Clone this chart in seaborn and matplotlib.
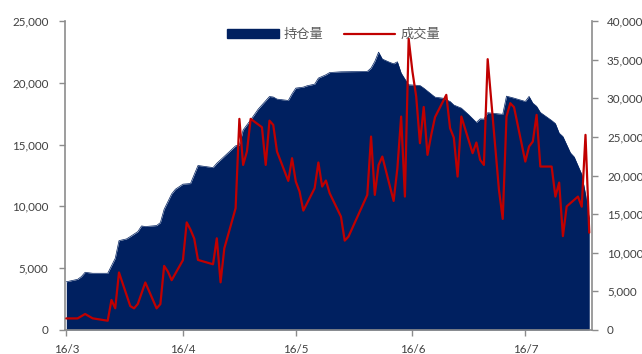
import matplotlib
matplotlib.use("Agg")
import matplotlib.pyplot as plt
import matplotlib.dates as mdates
from matplotlib.patches import Patch
from matplotlib.lines import Line2D
from matplotlib.ticker import FuncFormatter, MultipleLocator
import seaborn as sns
import pandas as pd

# ---- data ----
oi_dates = ["2016-03-01", "2016-03-04", "2016-03-05", "2016-03-06", "2016-03-08", "2016-03-12",
            "2016-03-14", "2016-03-15", "2016-03-17", "2016-03-18", "2016-03-20", "2016-03-21",
            "2016-03-22", "2016-03-25", "2016-03-26", "2016-03-27", "2016-03-29", "2016-03-30",
            "2016-04-01", "2016-04-03", "2016-04-05", "2016-04-09", "2016-04-10", "2016-04-11",
            "2016-04-15", "2016-04-16", "2016-04-17", "2016-04-19", "2016-04-21", "2016-04-24",
            "2016-04-25", "2016-04-26", "2016-04-29", "2016-04-30", "2016-05-01", "2016-05-03",
            "2016-05-04", "2016-05-06", "2016-05-07", "2016-05-09", "2016-05-10", "2016-05-13",
            "2016-05-20", "2016-05-21", "2016-05-22", "2016-05-23", "2016-05-24", "2016-05-26",
            "2016-05-27", "2016-05-28", "2016-05-29", "2016-05-30", "2016-05-31", "2016-06-03",
            "2016-06-04", "2016-06-07", "2016-06-09", "2016-06-11", "2016-06-12", "2016-06-14",
            "2016-06-16", "2016-06-18", "2016-06-19", "2016-06-20", "2016-06-21", "2016-06-25",
            "2016-06-26", "2016-06-28", "2016-07-01", "2016-07-02", "2016-07-03", "2016-07-04",
            "2016-07-05", "2016-07-08", "2016-07-09", "2016-07-10", "2016-07-11", "2016-07-13",
            "2016-07-14", "2016-07-15", "2016-07-16", "2016-07-17", "2016-07-18"]
oi_values = [3900, 4100, 4320, 4670, 4590, 4590,
             5800, 7230, 7370, 7560, 7960, 8420,
             8370, 8450, 8690, 9770, 11010, 11390,
             11800, 11850, 13310, 13140, 13490, 13770,
             14900, 14980, 16190, 17000, 17870, 18890,
             18850, 18680, 18570, 19110, 19570, 19650,
             19760, 19890, 20380, 20650, 20830, 20890,
             20920, 21190, 21730, 22480, 21920, 21650,
             21540, 21700, 20790, 20300, 19840, 19780,
             19570, 18840, 18760, 18490, 18200, 17950,
             17400, 16790, 17080, 17060, 17580, 17450,
             18920, 18760, 18490, 18900, 18350, 18100,
             17600, 16950, 16700, 15930, 15650, 14330,
             14000, 13300, 12600, 11000, 9000]

vol_dates = ["2016-03-01", "2016-03-04", "2016-03-06", "2016-03-08", "2016-03-12", "2016-03-13",
             "2016-03-14", "2016-03-15", "2016-03-18", "2016-03-19", "2016-03-20", "2016-03-22",
             "2016-03-25", "2016-03-26", "2016-03-27", "2016-03-28", "2016-03-29", "2016-04-01",
             "2016-04-02", "2016-04-03", "2016-04-04", "2016-04-05", "2016-04-09", "2016-04-10",
             "2016-04-11", "2016-04-12", "2016-04-15", "2016-04-16", "2016-04-17", "2016-04-18",
             "2016-04-19", "2016-04-22", "2016-04-23", "2016-04-24", "2016-04-25", "2016-04-26",
             "2016-04-29", "2016-04-30", "2016-05-01", "2016-05-02", "2016-05-03", "2016-05-06",
             "2016-05-07", "2016-05-08", "2016-05-09", "2016-05-10", "2016-05-13", "2016-05-14",
             "2016-05-15", "2016-05-20", "2016-05-21", "2016-05-22", "2016-05-23", "2016-05-24",
             "2016-05-27", "2016-05-28", "2016-05-29", "2016-05-30", "2016-05-31", "2016-06-01",
             "2016-06-02", "2016-06-03", "2016-06-04", "2016-06-05", "2016-06-06", "2016-06-07",
             "2016-06-10", "2016-06-11", "2016-06-12", "2016-06-13", "2016-06-14", "2016-06-17",
             "2016-06-18", "2016-06-19", "2016-06-20", "2016-06-21", "2016-06-24", "2016-06-25",
             "2016-06-26", "2016-06-27", "2016-06-28", "2016-07-01", "2016-07-02", "2016-07-03",
             "2016-07-04", "2016-07-05", "2016-07-08", "2016-07-09", "2016-07-10", "2016-07-11",
             "2016-07-12", "2016-07-15", "2016-07-16", "2016-07-17", "2016-07-18"]
vol_values = [1500, 1500, 2070, 1510, 1200, 3890,
              2810, 7450, 3100, 2800, 3370, 6150,
              2800, 3350, 8300, 7560, 6450, 9050,
              13930, 13000, 11830, 9070, 8510, 11870,
              6170, 10580, 15760, 27330, 21370, 23100,
              27330, 26250, 21370, 27100, 26550, 23100,
              19300, 22240, 19210, 17920, 15460, 18350,
              21680, 18570, 19350, 17700, 14680, 11570,
              12090, 17490, 25040, 17490, 21370, 22450,
              16710, 20940, 27630, 17270, 37700, 33460,
              30220, 24180, 28870, 22670, 25260, 27550,
              30440, 26130, 24900, 19860, 27630, 22890,
              24270, 22020, 21370, 35060, 18130, 14380,
              27630, 29360, 28850, 21800, 23750, 24400,
              27850, 21160, 21160, 17270, 19080, 12150,
              16000, 17270, 15970, 25260, 12600]

month_ticks = ["2016-03-01", "2016-04-01", "2016-05-01", "2016-06-01", "2016-07-01"]
month_labels = ["16/3", "16/4", "16/5", "16/6", "16/7"]
series_names = ["持仓量", "成交量"]

oi = pd.DataFrame({"date": pd.to_datetime(oi_dates), "value": oi_values})
vol = pd.DataFrame({"date": pd.to_datetime(vol_dates), "value": vol_values})

# ---- style ----
sns.set_theme(style="white")
plt.rcParams["font.family"] = ["Lato", "Noto Sans CJK SC", "DejaVu Sans"]

NAVY = "#002060"
RED = "#C00000"
AXIS = "#8c8c8c"
TXT = "#404040"

fig = plt.figure(figsize=(6.42, 3.54), dpi=100)
ax = fig.add_axes([65 / 642, 24 / 354, 526.7 / 642, 309 / 354])
ax2 = ax.twinx()

# area: open interest (left axis)
sns.lineplot(data=oi, x="date", y="value", ax=ax, color=NAVY, linewidth=0.5)
ax.fill_between(oi["date"], 0, oi["value"], color=NAVY, linewidth=0)

# line: volume (right axis)
sns.lineplot(data=vol, x="date", y="value", ax=ax2, color=RED, linewidth=1.6)

x0 = mdates.date2num(pd.Timestamp("2016-03-01")) - 0.35
ax.set_xlim(x0, x0 + 140)
ax.set_ylim(0, 25000)
ax2.set_ylim(0, 40000)

ax.set_xticks(mdates.date2num(pd.to_datetime(month_ticks)))
ax.set_xticklabels(month_labels)
ax.yaxis.set_major_locator(MultipleLocator(5000))
ax2.yaxis.set_major_locator(MultipleLocator(5000))
fmt = FuncFormatter(lambda v, p: f"{v:,.0f}")
ax.yaxis.set_major_formatter(fmt)
ax2.yaxis.set_major_formatter(fmt)

for a in (ax, ax2):
    a.set_xlabel("")
    a.set_ylabel("")
    a.grid(False)
    for s in a.spines.values():
        s.set_visible(False)

ax.spines["left"].set_visible(True)
ax.spines["bottom"].set_visible(True)
ax2.spines["right"].set_visible(True)
for s in (ax.spines["left"], ax.spines["bottom"], ax2.spines["right"]):
    s.set_color(AXIS)
    s.set_linewidth(1.2)

ax.tick_params(axis="y", which="major", left=True, length=4, width=1.0, color=AXIS,
               labelsize=8.4, labelcolor=TXT, pad=8)
ax.tick_params(axis="x", which="major", bottom=True, length=4, width=1.0, color=AXIS,
               labelsize=8.4, labelcolor=TXT, pad=6)
ax2.tick_params(axis="y", which="major", right=True, length=4, width=1.0, color=AXIS,
                labelsize=8.4, labelcolor=TXT, pad=7)

handles = [Patch(facecolor=NAVY, edgecolor=NAVY), Line2D([0], [0], color=RED, linewidth=1.6)]
leg = ax2.legend(handles, series_names, loc="center", bbox_to_anchor=(0.51, 0.956),
                 ncol=2, frameon=False, fontsize=9.5, handlelength=3.9, handleheight=0.6,
                 handletextpad=0.4, columnspacing=1.5, borderpad=0,
                 prop={"family": ["Noto Sans CJK SC", "DejaVu Sans"], "size": 9.5})
for t in leg.get_texts():
    t.set_color("#595959")

fig.savefig("out.png", dpi=100)
